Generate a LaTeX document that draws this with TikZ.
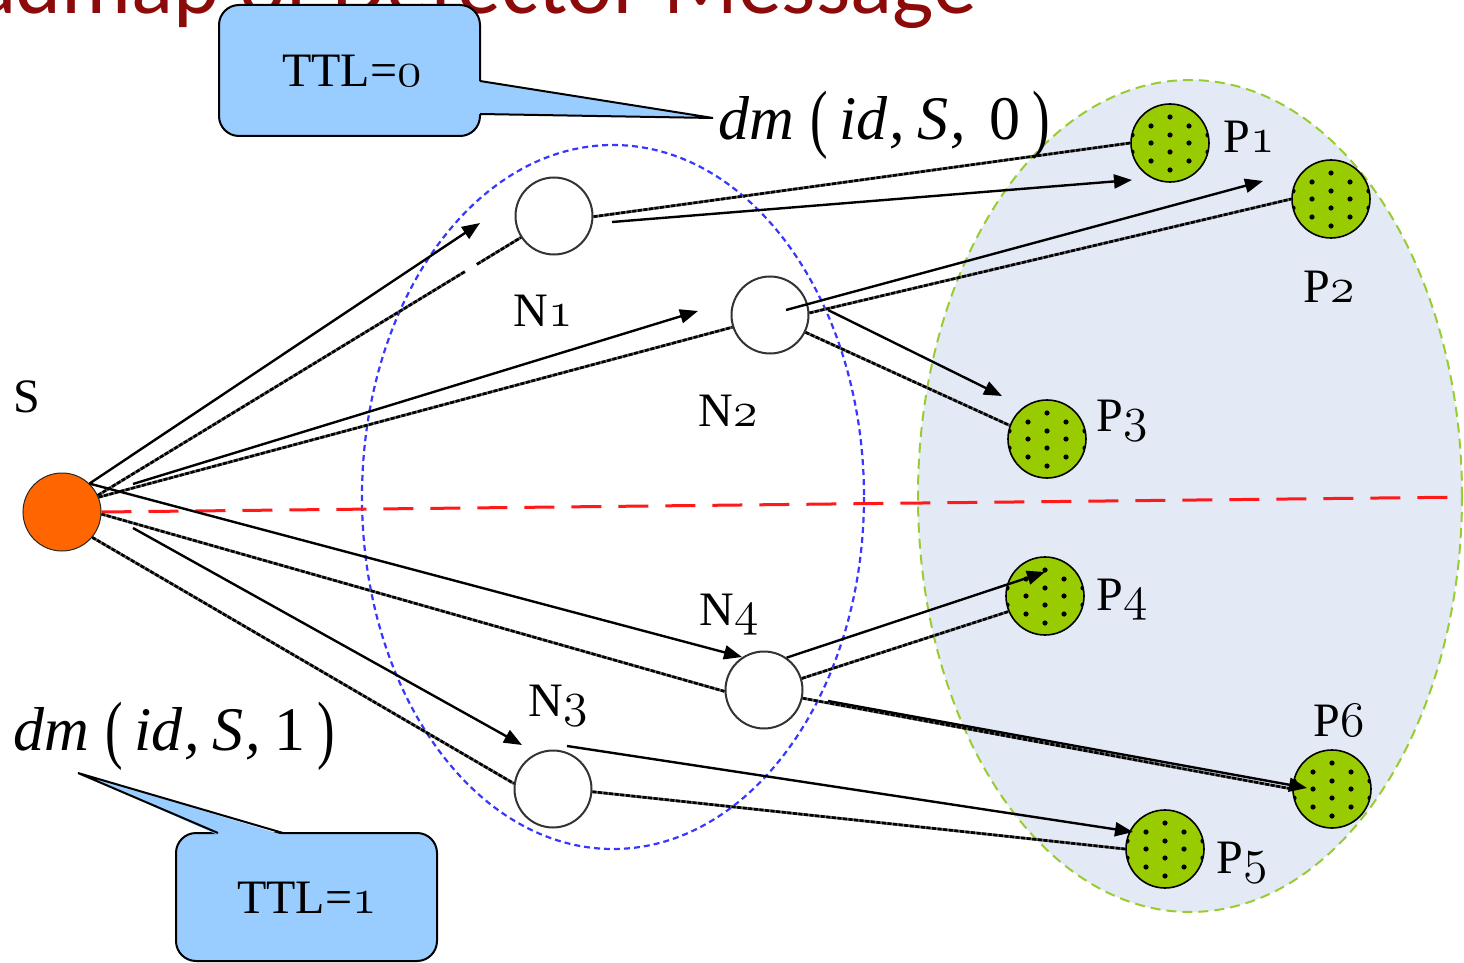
\documentclass[tikz,border=0pt]{standalone}
\usepackage{fontspec}
\usepackage{graphicx}
\setmainfont{Liberation Serif}
\newfontfamily\titlefont{Carlito}
\newfontfamily\termfont{Liberation Serif}
\usetikzlibrary{arrows.meta,calc}

\definecolor{sorange}{RGB}{255,102,0}
\definecolor{pgreen}{RGB}{153,204,0}
\definecolor{callblue}{RGB}{153,204,255}
\definecolor{regionfill}{RGB}{227,234,246}
\definecolor{greendash}{RGB}{153,204,51}
\definecolor{bluedash}{RGB}{55,55,255}
\definecolor{titlered}{RGB}{140,10,10}

% old-style figures
\newcommand\osd[1]{{\usefont{OML}{lmm}{m}{it}#1}}
% tall parentheses of the message term
\newcommand\bigpar[1]{\raisebox{-2pt}{\scalebox{0.85}[1.22]{\upshape #1}}}

\begin{document}
\begin{tikzpicture}[x=0.5pt, y=-0.5pt,
  snode/.style={circle, draw=black!85, fill=sorange, line width=0.5pt,
    minimum size=39pt, inner sep=0pt},
  nnode/.style={circle, draw=black!80, fill=white, line width=1pt,
    minimum size=38.5pt, inner sep=0pt},
  pnode/.style={circle, draw=black, fill=pgreen, line width=0.8pt,
    minimum size=39pt, inner sep=0pt,
    path picture={
      \foreach \dx/\dy in {0/13,0/4,0/-4.5,0/-13.5,
                           9.5/8.5,9.5/0,9.5/-9,-9.5/8.5,-9.5/0,-9.5/-9,
                           19/4,19/-4.5,-19/4,-19/-4.5}
        \fill[black] ([shift={(\dx pt,\dy pt)}]path picture bounding box.center)
          circle[radius=1.3pt];}},
  lbl/.style={font=\termfont\fontsize{24pt}{26pt}\selectfont, inner sep=0pt, anchor=base},
  fwd/.style={line width=1.2pt, -{Triangle[length=9pt,width=7pt]}},
  reply/.style={draw=black!60, line width=1.4pt,
    postaction={draw=black, line width=1.3pt, dash pattern=on 2pt off 0.8pt}},
  call/.style={fill=callblue, draw=black, line width=1pt},
  dmtext/.style={font=\termfont\fontsize{31pt}{33pt}\selectfont, inner sep=0pt, anchor=base west},
]
\path[use as bounding box] (0,0) rectangle (1464,963);
\clip (0,0) rectangle (1464,963);

% heading line of the slide
\node[anchor=base east, inner sep=0pt, text=titlered,
      font=\titlefont\fontsize{43.8pt}{44pt}\selectfont] (title) at (977,14)
  {Roadmap of Detector Message};

% peer region and neighbour region
\draw[fill=regionfill, draw=greendash, line width=1pt, dash pattern=on 5pt off 3pt]
  (1190,496) ellipse [x radius=272, y radius=416];
\draw[draw=bluedash, line width=1.1pt, dash pattern=on 3pt off 2pt]
  (613,497) ellipse [x radius=251, y radius=352];

% nodes
\node[snode] (S)  at (62,512) {};
\node[nnode] (N1) at (554,216) {};
\node[nnode] (N2) at (770,315) {};
\node[nnode] (N3) at (553,789) {};
\node[nnode] (N4) at (764,690) {};
\node[pnode] (P1) at (1170,143) {};
\node[pnode] (P2) at (1331,199) {};
\node[pnode] (P3) at (1047,439) {};
\node[pnode] (P4) at (1045,596) {};
\node[pnode] (P5) at (1165,849) {};
\node[pnode] (P6) at (1332,789) {};

% dividing line
\coordinate (redend) at (1470,497);
\draw[red!90, line width=1.5pt, dash pattern=on 15pt off 8.5pt] (S.east) -- (redend);

% returning links
\draw[reply] (S.25) -- ($(S.25)!0.868!(N1.213)$) ($(S.25)!0.896!(N1.213)$) -- (N1.213);
\draw[reply] (S.22) -- (N2.198);
\draw[reply] (S.-3) -- (N4.182);
\draw[reply] (S.-40) -- (N3.172);
\draw[reply] (N1.-1) -- (P1.180);
\draw[reply] (N2.3) -- (P2.180);
\draw[reply] (N2.-26) -- (P3.160);
\draw[reply] (N4.17) -- (P4.203);
\draw[reply] (N4.-12) -- (P6.180);
\draw[reply] (N3.-4) -- (P5.180);

% forwarded detector messages
\coordinate (t1) at (480,223);
\coordinate (s2) at (133,484);  \coordinate (t2) at (698,311);
\coordinate (t3) at (742,657);
\coordinate (s4) at (133,528);  \coordinate (t4) at (522,745);
\coordinate (s5) at (612,222);  \coordinate (t5) at (1132,180);
\coordinate (s6) at (786,310);  \coordinate (t6) at (1263,181);
\coordinate (s7) at (828,310);  \coordinate (t7) at (1002,396);
\coordinate (t8) at (1045,572);
\coordinate (s9) at (828,701);  \coordinate (t9) at (1307,788);
\coordinate (s10) at (567,746); \coordinate (t10) at (1133,832);
\draw[fwd] (S.46) -- (t1);
\draw[fwd] (s2) -- (t2);
\draw[fwd] (S.46) -- (t3);
\draw[fwd] (s4) -- (t4);
\draw[fwd] (s5) -- (t5);
\draw[fwd] (s6) -- (t6);
\draw[fwd] (s7) -- (t7);
\draw[fwd] (N4.55) -- (t8);
\draw[fwd] (s9) -- (t9);
\draw[fwd] (s10) -- (t10);

% labels
\node[lbl] (lS)  at (27,412)  {S};
\node[lbl] (lN1) at (543,327) {N\osd{1}};
\node[lbl] (lN2) at (728,426) {N\osd{2}};
\node[lbl] (lN3) at (558,716) {N\osd{3}};
\node[lbl] (lN4) at (729,625) {N\osd{4}};
\node[lbl] (lP1) at (1249,153) {P\osd{1}};
\node[lbl] (lP2) at (1329,302) {P\osd{2}};
\node[lbl] (lP3) at (1122,431) {P\osd{3}};
\node[lbl] (lP4) at (1122,610) {P\osd{4}};
\node[lbl] (lP5) at (1242,873) {P\osd{5}};
\node[lbl] (lP6) at (1339,736) {P\osd{6}};

% message terms
\node[dmtext] (dm0) at (718,140)
  {\itshape dm\kern8pt\bigpar{(}\kern6pt id\kern1pt,\kern6pt S\kern1pt,\kern12pt\upshape 0\kern6pt\bigpar{)}};
\node[dmtext] (dm1) at (13,750)
  {\itshape dm\kern8pt\bigpar{(}\kern6pt id\kern1pt,\kern6pt S\kern1pt,\kern7pt\upshape 1\kern6pt\bigpar{)}};

% callout TTL=0
\coordinate (tip0) at (713,118);
\draw[call, rounded corners=10pt] (219,5) rectangle (480,136);
\fill[callblue] (478,81) -- (tip0) -- (478,114) -- cycle;
\draw[line width=1pt, line join=miter] (480,81) -- (tip0) -- (480,114);
\node[lbl] (ttl0) at (352,87) {TTL=\osd{0}};

% callout TTL=1
\coordinate (tip1) at (78,773);
\draw[call, rounded corners=10pt] (176,833) rectangle (437,961);
\fill[callblue] (218,835) -- (tip1) -- (283,835) -- cycle;
\draw[line width=1pt, line join=miter] (218,833) -- (tip1) -- (283,833);
\node[lbl] (ttl1) at (307,913) {TTL=\osd{1}};
\end{tikzpicture}
\end{document}
